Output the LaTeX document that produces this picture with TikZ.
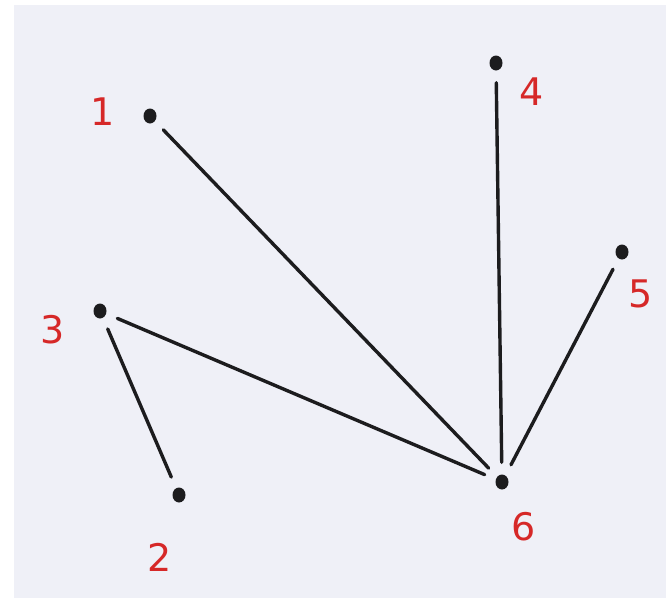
\documentclass[tikz,border=0pt]{standalone}
\usetikzlibrary{shapes.geometric}
\usepackage{fontspec}
\setmainfont{DejaVu Sans}
\definecolor{paper}{RGB}{239,240,247}
\definecolor{ink}{RGB}{28,28,30}
\definecolor{pen}{RGB}{214,40,40}
\begin{document}
\begin{tikzpicture}[x=1pt,y=-1pt,
  vdot/.style={ellipse,fill=ink,inner sep=0pt,minimum width=13pt,minimum height=15pt},
  lbl/.style={text=pen,font=\fontsize{38}{38}\selectfont},
  edge/.style={draw=ink,line width=3.4pt,line cap=round,shorten >=12pt,shorten <=12pt}]
\useasboundingbox (0,0) rectangle (672,611);
\fill[white] (0,0) rectangle (672,611);
\fill[paper] (14,5) rectangle (666,598);
\node[vdot] (n1) at (150,116) {};
\node[vdot] (n2) at (179,495) {};
\node[vdot] (n3) at (100,311) {};
\node[vdot] (n4) at (496,63) {};
\node[vdot] (n5) at (622,252) {};
\node[vdot] (n6) at (502,482) {};
\node[lbl] (l1) at (103,112) {1};
\node[lbl] (l2) at (160,557) {2};
\node[lbl] (l3) at (53,330) {3};
\node[lbl] (l4) at (532,92) {4};
\node[lbl] (l5) at (641,294) {5};
\node[lbl] (l6) at (524,527) {6};
\draw[edge] (n1) -- (n6);
\draw[edge] (n3) -- (n6);
\draw[edge] (n3) -- (n2);
\draw[edge] (n4) -- (n6);
\draw[edge] (n5) -- (n6);
\end{tikzpicture}
\end{document}
